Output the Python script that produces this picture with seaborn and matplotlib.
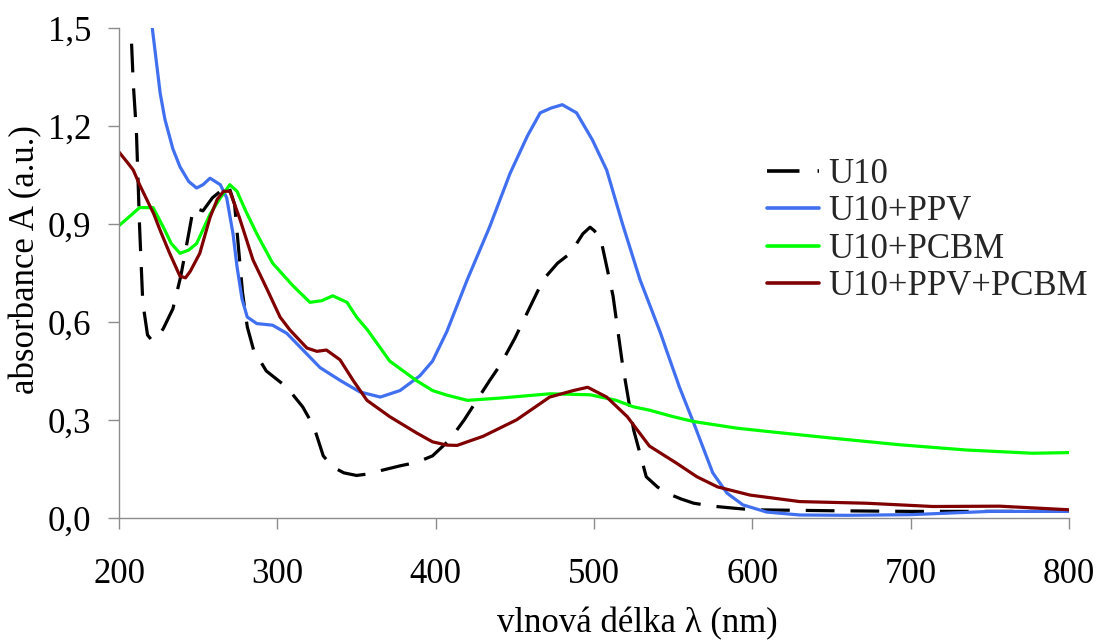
import matplotlib
matplotlib.use("Agg")
import matplotlib.pyplot as plt
import seaborn as sns
import pandas as pd

# ---- data ----
u10_nm = [204, 207.5, 209, 211, 213, 215, 218, 220.5, 224, 228, 234, 239, 244, 247, 253, 259,
          264, 269, 273, 278, 281, 285, 293, 306, 316, 323, 329, 335, 342, 350, 358, 367, 378,
          388, 398, 409, 418, 426, 434, 441, 450, 458, 468, 477, 485, 493, 497.5, 500, 504,
          512, 518, 525, 533, 540, 546, 555, 563, 575, 588, 600, 650, 700, 750, 800]
u10_a = [1.9, 1.5, 1.33, 1.18, 0.89, 0.66, 0.56, 0.545, 0.55, 0.58, 0.64, 0.74, 0.87, 0.95,
         0.94, 0.98, 1.0, 1.02, 0.96, 0.69, 0.585, 0.514, 0.45, 0.40, 0.34, 0.28, 0.19, 0.156,
         0.138, 0.13, 0.135, 0.147, 0.16, 0.17, 0.19, 0.24, 0.30, 0.36, 0.42, 0.47, 0.55, 0.63,
         0.73, 0.78, 0.81, 0.87, 0.89, 0.88, 0.86, 0.68, 0.47, 0.27, 0.126, 0.095, 0.076,
         0.058, 0.045, 0.036, 0.03, 0.025, 0.022, 0.02, 0.02, 0.02]

ppv_nm = [215, 221, 226, 229, 234, 238.5, 244, 249, 253, 257.5, 264, 268, 272, 274.5, 277.7,
          281, 287, 297, 306, 314, 327, 340, 352, 365, 377.5, 390, 398, 407, 420, 434, 447,
          458, 466, 473, 480, 489, 499, 508, 518, 529, 542, 546, 554, 563, 575, 584, 594, 609,
          630, 660, 700, 750, 800]
ppv_a = [1.8, 1.5, 1.30, 1.22, 1.13, 1.075, 1.03, 1.01, 1.02, 1.04, 1.02, 0.98, 0.87, 0.77,
         0.67, 0.615, 0.595, 0.59, 0.565, 0.525, 0.46, 0.42, 0.386, 0.37, 0.39, 0.435, 0.48,
         0.57, 0.73, 0.89, 1.055, 1.17, 1.24, 1.255, 1.265, 1.24, 1.157, 1.065, 0.90, 0.73,
         0.566, 0.51, 0.40, 0.29, 0.138, 0.076, 0.04, 0.018, 0.009, 0.008, 0.01, 0.02, 0.02]

pcbm_nm = [200, 206, 213, 221.5, 228, 233, 238.5, 244, 249, 257.5, 264, 270, 274.5, 280, 287,
           297, 310, 320.6, 328, 335, 344, 350, 357, 371, 388, 398, 407, 420, 441, 472, 497.5,
           514, 525, 535, 550, 563, 590, 609, 651, 693, 735, 777, 800]
pcbm_a = [0.895, 0.92, 0.95, 0.95, 0.89, 0.84, 0.81, 0.82, 0.84, 0.93, 0.98, 1.02, 1.0, 0.94,
          0.87, 0.78, 0.71, 0.66, 0.665, 0.68, 0.66, 0.615, 0.575, 0.48, 0.42, 0.39, 0.376,
          0.36, 0.367, 0.38, 0.377, 0.36, 0.34, 0.33, 0.31, 0.295, 0.275, 0.265, 0.244, 0.224,
          0.208, 0.198, 0.2]

both_nm = [200, 205, 209, 213, 217.7, 222, 226, 232, 238.5, 242, 245, 251, 257.5, 262, 266,
           270, 276, 284.6, 293.5, 301.7, 308, 318.7, 325, 331, 339.6, 348, 356.6, 371, 388,
           398, 407, 413.5, 430, 451, 472, 487, 496, 508, 521, 535, 552, 565, 578, 598.5, 630,
           672, 714, 756, 800]
both_a = [1.12, 1.09, 1.065, 1.02, 0.973, 0.93, 0.88, 0.81, 0.74, 0.735, 0.755, 0.81, 0.92,
          0.975, 1.0, 1.0, 0.92, 0.79, 0.70, 0.615, 0.575, 0.52, 0.51, 0.514, 0.484, 0.42,
          0.36, 0.31, 0.26, 0.233, 0.223, 0.222, 0.25, 0.30, 0.37, 0.39, 0.40, 0.37, 0.31,
          0.22, 0.168, 0.126, 0.095, 0.07, 0.05, 0.045, 0.035, 0.036, 0.025]

series_names = ["U10", "U10+PPV", "U10+PCBM", "U10+PPV+PCBM"]
x_ticks = [200, 300, 400, 500, 600, 700, 800]
y_ticks = [0.0, 0.3, 0.6, 0.9, 1.2, 1.5]
y_tick_labels = ["0,0", "0,3", "0,6", "0,9", "1,2", "1,5"]
x_label = "vlnová délka λ (nm)"
y_label = "absorbance A (a.u.)"

# ---- build long-form table ----
frames = []
for name, xs, ys in zip(series_names, [u10_nm, ppv_nm, pcbm_nm, both_nm],
                        [u10_a, ppv_a, pcbm_a, both_a]):
    frames.append(pd.DataFrame({"nm": xs, "A": ys, "series": name}))
df = pd.concat(frames, ignore_index=True)

sns.set_theme(style="ticks")
plt.rcParams["font.family"] = ["Liberation Serif", "DejaVu Serif"]

palette = {"U10": "#000000", "U10+PPV": "#4070F0", "U10+PCBM": "#00FF00",
           "U10+PPV+PCBM": "#800000"}
dashes = {"U10": (9, 5), "U10+PPV": "", "U10+PCBM": "", "U10+PPV+PCBM": ""}

fig = plt.figure(figsize=(10.99, 6.41), dpi=100)
ax = fig.add_axes([0.1083, 0.192, 0.8644, 0.7644])

sns.lineplot(data=df, x="nm", y="A", hue="series", style="series",
             hue_order=series_names, style_order=series_names,
             palette=palette, dashes=dashes, estimator=None, linewidth=2.3,
             ax=ax, legend=True)

ax.set_xlim(200, 800)
ax.set_ylim(0, 1.5)
ax.set_xticks(x_ticks)
ax.set_xticklabels([str(v) for v in x_ticks])
ax.set_yticks(y_ticks)
ax.set_yticklabels(y_tick_labels)

for s in ["top", "right"]:
    ax.spines[s].set_visible(False)
for s in ["left", "bottom"]:
    ax.spines[s].set_color("#8c8c8c")
    ax.spines[s].set_linewidth(1.0)

ax.tick_params(axis="both", which="major", direction="out", length=8, width=1.0,
               color="#8c8c8c", labelsize=25, labelcolor="black")
ax.tick_params(axis="x", pad=21)
ax.tick_params(axis="y", pad=12)

ax.set_xlabel(x_label, fontsize=25, color="black")
ax.set_ylabel(y_label, fontsize=25, color="black")
ax.xaxis.set_label_coords(0.546, -0.183)
ax.yaxis.set_label_coords(-0.081, 0.527)

handles, labels = ax.get_legend_handles_labels()
leg = ax.legend(handles, labels, loc="upper left", bbox_to_anchor=(0.698, 0.753),
                bbox_transform=fig.transFigure, frameon=False, fontsize=25,
                handlelength=1.5, handletextpad=0.25, labelspacing=0.12,
                borderpad=0, borderaxespad=0)
for ln in leg.get_lines():
    ln.set_linewidth(2.6)

fig.savefig("out.png", dpi=100)
